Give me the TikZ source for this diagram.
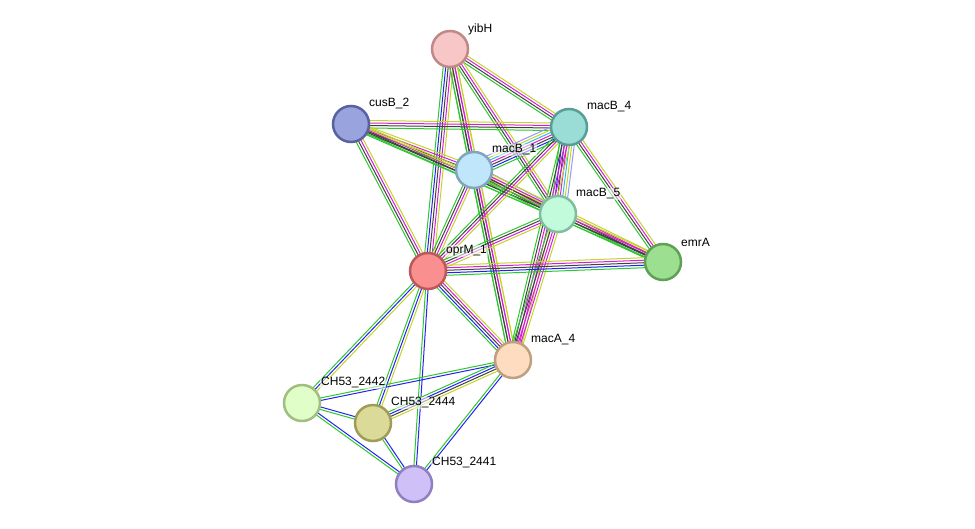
\documentclass[tikz,border=0pt]{standalone}
\usepackage{fontspec}
\setmainfont{Liberation Sans}
\usetikzlibrary{calc, backgrounds}

% evidence colours
\definecolor{evgreen}{RGB}{45,200,45}
\definecolor{evblue}{RGB}{35,35,240}
\definecolor{evblack}{RGB}{65,65,65}
\definecolor{evmag}{RGB}{215,30,215}
\definecolor{evcyan}{RGB}{45,190,230}
\definecolor{evylw}{RGB}{195,212,40}
\definecolor{evlilac}{RGB}{150,150,250}

\tikzset{
  prot/.style={circle, minimum size=36pt, inner sep=0pt, line width=2.5pt},
  lbl/.style={anchor=west, inner sep=1pt, fill=white, fill opacity=0.55, text opacity=1,
              font=\fontsize{12}{13}\selectfont},
  link/.style={line width=1pt}
}

% one link = several parallel lines, one per evidence colour
\newcommand{\strlink}[3]{%
  \foreach \c [count=\n] in {#3} {\xdef\linkcount{\n}}%
  \foreach \c [count=\i] in {#3} {%
    \pgfmathsetmacro{\off}{(\i-(\linkcount+1)/2)*2.5}%
    \draw[\c, link] ($(#1.center)!\off pt!90:(#2.center)$) -- ($(#2.center)!\off pt!-90:(#1.center)$);
  }}

\begin{document}
\begin{tikzpicture}[x=1pt, y=-1pt]

\useasboundingbox (0,0) rectangle (975,529);

% proteins
\node[prot, fill={rgb,255:red,247;green,198;blue,198}, draw={rgb,255:red,192;green,136;blue,136}] (yibH) at (450,49) {};
\node[prot, fill={rgb,255:red,153;green,163;blue,221}, draw={rgb,255:red,88;green,98;blue,158}] (cusB2) at (351,124) {};
\node[prot, fill={rgb,255:red,153;green,221;blue,214}, draw={rgb,255:red,88;green,158;blue,150}] (macB4) at (569,127) {};
\node[prot, fill={rgb,255:red,192;green,230;blue,251}, draw={rgb,255:red,128;green,166;blue,190}] (macB1) at (474,170) {};
\node[prot, fill={rgb,255:red,194;green,251;blue,220}, draw={rgb,255:red,126;green,190;blue,158}] (macB5) at (558,214) {};
\node[prot, fill={rgb,255:red,250;green,143;blue,143}, draw={rgb,255:red,190;green,88;blue,88}] (oprM1) at (428,271) {};
\node[prot, fill={rgb,255:red,157;green,223;blue,145}, draw={rgb,255:red,94;green,160;blue,84}] (emrA) at (663,262) {};
\node[prot, fill={rgb,255:red,253;green,220;blue,192}, draw={rgb,255:red,190;green,160;blue,128}] (macA4) at (513,360) {};
\node[prot, fill={rgb,255:red,224;green,254;blue,200}, draw={rgb,255:red,160;green,190;blue,128}] (c2442) at (302,403) {};
\node[prot, fill={rgb,255:red,220;green,218;blue,152}, draw={rgb,255:red,158;green,156;blue,86}] (c2444) at (373,423) {};
\node[prot, fill={rgb,255:red,208;green,192;blue,248}, draw={rgb,255:red,144;green,128;blue,192}] (c2441) at (414,484) {};

% names
\node[lbl] (yibH-lbl)  at ($(yibH)+(17,-20)$)  {yibH};
\node[lbl] (cusB2-lbl) at ($(cusB2)+(17,-20)$) {cusB\_2};
\node[lbl] (macB4-lbl) at ($(macB4)+(17,-20)$) {macB\_4};
\node[lbl] (macB1-lbl) at ($(macB1)+(17,-20)$) {macB\_1};
\node[lbl] (macB5-lbl) at ($(macB5)+(17,-20)$) {macB\_5};
\node[lbl] (oprM1-lbl) at ($(oprM1)+(17,-20)$) {oprM\_1};
\node[lbl] (emrA-lbl)  at ($(emrA)+(17,-20)$)  {emrA};
\node[lbl] (macA4-lbl) at ($(macA4)+(17,-20)$) {macA\_4};
\node[lbl] (c2442-lbl) at ($(c2442)+(18,-20)$) {CH53\_2442};
\node[lbl] (c2444-lbl) at ($(c2444)+(17,-20)$) {CH53\_2444};
\node[lbl] (c2441-lbl) at ($(c2441)+(17,-21)$) {CH53\_2441};

\begin{scope}[on background layer]
\strlink{yibH}{macB4}{evgreen,evblack,evmag,evylw}
\strlink{yibH}{macB1}{evgreen,evblack,evmag,evylw}
\strlink{yibH}{macB5}{evgreen,evblack,evmag,evylw}
\strlink{yibH}{oprM1}{evgreen,evblue,evblack,evmag,evylw}
\strlink{yibH}{macA4}{evgreen,evblack,evmag,evylw}
%
\strlink{cusB2}{macB4}{evgreen,evblack,evmag,evylw}
\strlink{cusB2}{macB1}{evgreen,evblack,evmag,evylw}
\strlink{cusB2}{macB5}{evgreen,evblack,evmag,evylw}
\strlink{cusB2}{emrA}{evgreen,evblack,evylw}
\strlink{cusB2}{oprM1}{evgreen,evblack,evmag,evylw}
%
\strlink{macB1}{macB4}{evgreen,evblue,evblack,evmag,evcyan,evylw,evlilac}
\strlink{macB1}{macB5}{evgreen,evblack,evmag,evylw,evlilac}
\strlink{macB1}{oprM1}{evgreen,evblack,evmag,evylw}
\strlink{macB1}{emrA}{evgreen,evblack,evmag,evylw}
\strlink{macB1}{macA4}{evgreen,evblack,evmag,evylw}
%
\strlink{macB4}{macB5}{evgreen,evblue,evblack,evmag,evcyan,evylw,evlilac}
\strlink{macB4}{oprM1}{evgreen,evblack,evmag,evylw}
\strlink{macB4}{emrA}{evgreen,evblack,evmag,evylw}
\strlink{macB4}{macA4}{evgreen,evblack,evmag,evmag,evylw}
%
\strlink{macB5}{oprM1}{evgreen,evblack,evmag,evylw}
\strlink{macB5}{emrA}{evgreen,evblack,evmag,evylw}
\strlink{macB5}{macA4}{evgreen,evblack,evmag,evmag,evylw}
%
\strlink{oprM1}{emrA}{evgreen,evblue,evblack,evmag,evylw}
\strlink{oprM1}{macA4}{evgreen,evblue,evblack,evmag,evylw}
\strlink{oprM1}{c2442}{evgreen,evblue,evylw}
\strlink{oprM1}{c2444}{evgreen,evblue,evylw}
\strlink{oprM1}{c2441}{evgreen,evblue}
%
\strlink{macA4}{c2442}{evgreen,evblue}
\strlink{macA4}{c2444}{evgreen,evblue,evblack,evylw}
\strlink{macA4}{c2441}{evgreen,evblue}
\strlink{c2442}{c2444}{evgreen,evblue}
\strlink{c2442}{c2441}{evgreen,evblue}
\strlink{c2444}{c2441}{evgreen,evblue}
\end{scope}

\end{tikzpicture}
\end{document}
